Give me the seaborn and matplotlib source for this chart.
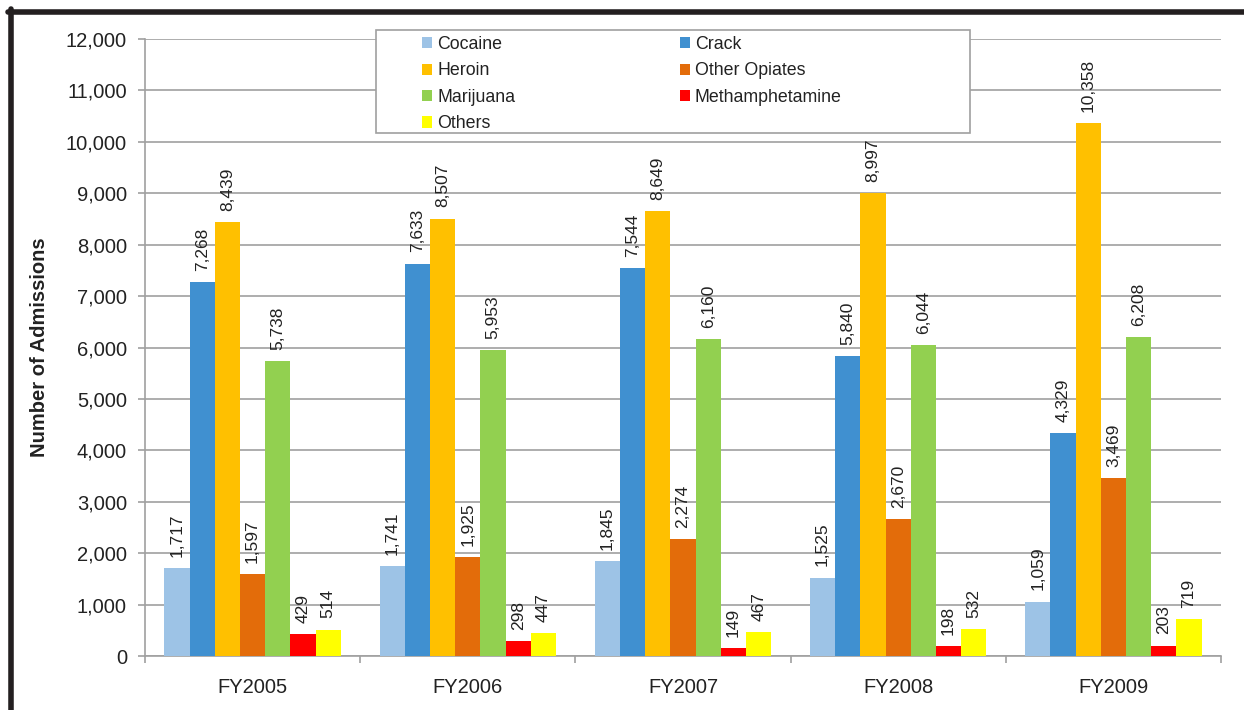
import numpy as np
import pandas as pd
import matplotlib as mpl
import matplotlib.pyplot as plt
import seaborn as sns
from matplotlib.lines import Line2D
from matplotlib.patches import Rectangle

# data
years = ["FY2005", "FY2006", "FY2007", "FY2008", "FY2009"]
drugs = ["Cocaine", "Crack", "Heroin", "Other Opiates", "Marijuana",
         "Methamphetamine", "Others"]
cocaine = [1717, 1741, 1845, 1525, 1059]
crack = [7268, 7633, 7544, 5840, 4329]
heroin = [8439, 8507, 8649, 8997, 10358]
other_opiates = [1597, 1925, 2274, 2670, 3469]
marijuana = [5738, 5953, 6160, 6044, 6208]
meth = [429, 298, 149, 198, 203]
others = [514, 447, 467, 532, 719]

colors = ["#9DC3E6", "#4090D0", "#FFC000", "#E36C0A", "#92D050",
          "#FF0000", "#FFFF00"]

series = [cocaine, crack, heroin, other_opiates, marijuana, meth, others]
df = pd.DataFrame(
    [(y, d, v) for d, vals in zip(drugs, series) for y, v in zip(years, vals)],
    columns=["Year", "Drug", "Admissions"],
)

sns.set_style("white")
plt.rcParams["font.family"] = ["Liberation Sans", "DejaVu Sans"]

fig = plt.figure(figsize=(12.44, 7.10), dpi=100)
ax = fig.add_axes([145 / 1244, 1 - 656 / 710, 1076 / 1244, 617 / 710])

sns.barplot(
    data=df, x="Year", y="Admissions", hue="Drug", hue_order=drugs,
    palette=colors, width=0.82, linewidth=0, errorbar=None, ax=ax,
    saturation=1, zorder=3,
)

# value labels on top of bars
for cont, vals in zip(ax.containers, series):
    ax.bar_label(cont, labels=[f"{v:,}" for v in vals], rotation=90,
                 padding=8, fontsize=12.5, color="#222222")

ax.set_ylim(0, 12000)
ax.set_xlim(-0.5, 4.5)
ax.set_yticks(np.arange(0, 12001, 1000))
ax.yaxis.set_major_formatter(mpl.ticker.FuncFormatter(lambda v, p: f"{int(v):,}"))
ax.grid(axis="y", color="#A0A0A0", linewidth=1.2, zorder=0)
ax.set_axisbelow(True)

for s in ["top", "right"]:
    ax.spines[s].set_visible(False)
for s in ["left", "bottom"]:
    ax.spines[s].set_color("#A0A0A0")
    ax.spines[s].set_linewidth(1.2)

ax.tick_params(axis="y", which="major", length=5, color="#A0A0A0",
               width=1.2, labelsize=14.5, labelcolor="#222222", pad=8, left=True)
ax.tick_params(axis="x", which="major", length=0, labelsize=14.5,
               labelcolor="#222222", pad=16)
ax.set_xticks(np.arange(-0.5, 5, 1), minor=True)
ax.tick_params(axis="x", which="minor", length=5, color="#A0A0A0",
               width=1.2, bottom=True)

ax.set_xlabel("")
ax.set_ylabel("Number of Admissions", fontsize=14.5, fontweight="bold",
              color="#222222")
ax.yaxis.set_label_coords((49 - 145) / 1076, 0.5)

# legend box
box = Rectangle(((376 - 145) / 1076, (656 - 133) / 617), 594 / 1076, 103 / 617,
                transform=ax.transAxes, facecolor="white", edgecolor="#A0A0A0",
                linewidth=1.2, zorder=4, clip_on=False)
ax.add_patch(box)
handles, labels = ax.get_legend_handles_labels()
order = [0, 2, 4, 6, 1, 3, 5]  # row-wise fill like the original
leg = ax.legend(
    [handles[i] for i in order], [labels[i] for i in order],
    ncol=2, loc="upper left",
    bbox_to_anchor=((422 - 145) / 1076, (656 - 36) / 617),
    frameon=False, fontsize=12.8, handlelength=0.58, handleheight=0.58,
    handletextpad=0.27, labelspacing=0.53, columnspacing=9.25,
    borderpad=0, borderaxespad=0,
)
leg.set_zorder(5)
for t in leg.get_texts():
    t.set_color("#222222")

# black frame lines of the original page
fig.add_artist(Line2D([8 / 1244, 1], [1 - 11.5 / 710, 1 - 11.5 / 710],
                      transform=fig.transFigure, color="#231F20", linewidth=4))
fig.add_artist(Line2D([10.5 / 1244, 10.5 / 1244], [0, 1 - 9 / 710],
                      transform=fig.transFigure, color="#231F20", linewidth=4))

fig.savefig("out.png", dpi=100)
